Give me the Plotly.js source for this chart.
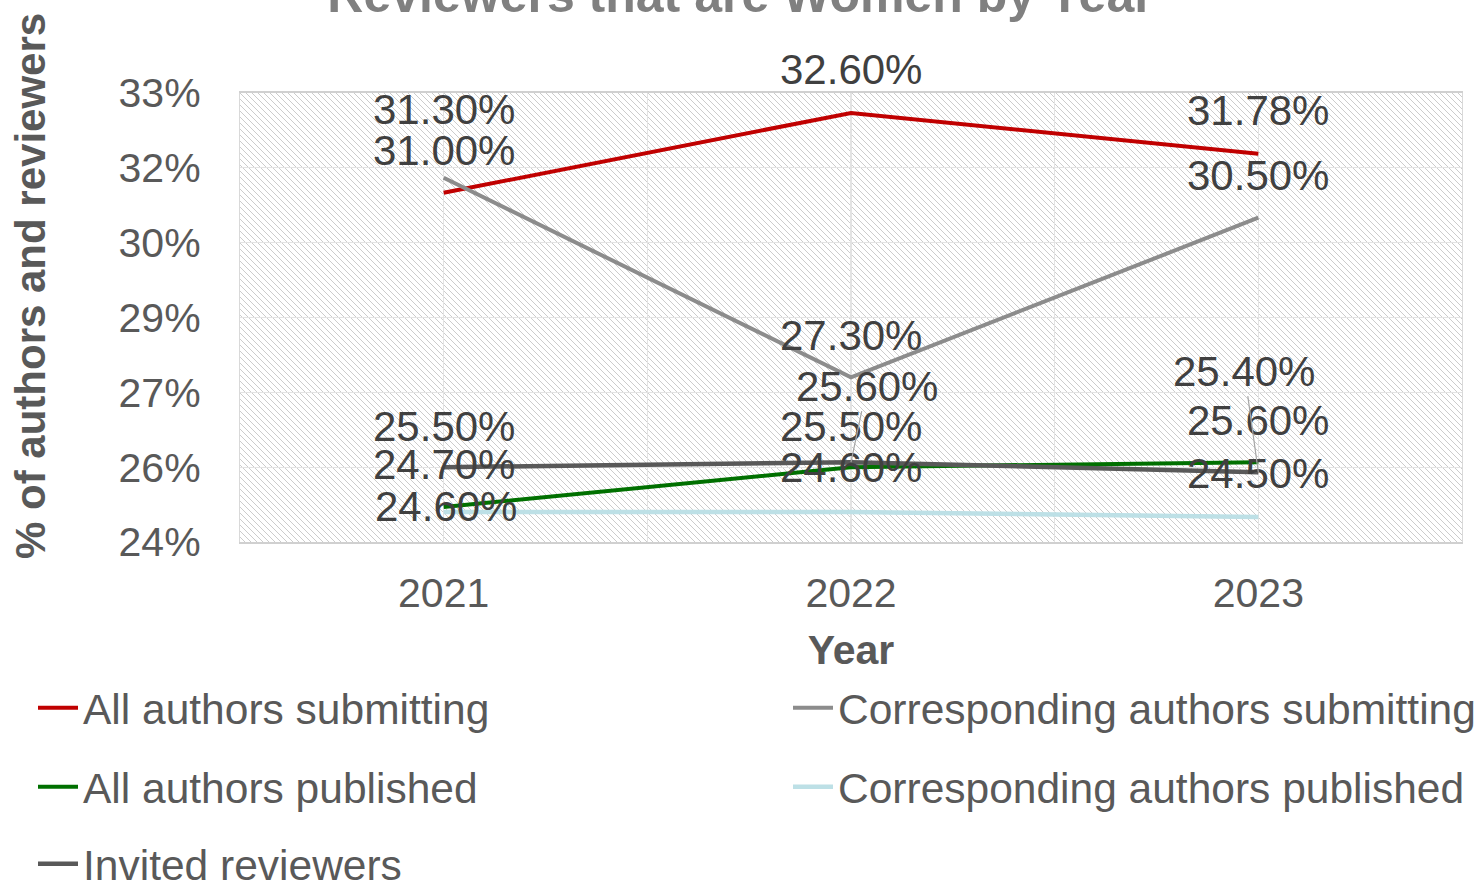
<!DOCTYPE html>
<html>
<head>
<meta charset="utf-8">
<script src="https://cdn.plot.ly/plotly-3.0.1.min.js"></script>
<style>
  html, body { margin: 0; padding: 0; background: #ffffff; }
  #chart { width: 1481px; height: 882px; }
</style>
</head>
<body>
<div id="chart"></div>
<script>
// ---- data ----
const years = [2021, 2022, 2023];
const allAuthorsSubmitting = [31.00, 32.60, 31.78];
const correspondingSubmitting = [31.30, 27.30, 30.50];
const allAuthorsPublished = [24.70, 25.50, 25.60];
const correspondingPublished = [24.60, 24.60, 24.50];
const invitedReviewers = [25.50, 25.60, 25.40];
const yTickValues = [24, 25.5, 27, 28.5, 30, 31.5, 33];
const seriesNames = [
  'All authors submitting',
  'Corresponding authors submitting',
  'All authors published',
  'Corresponding authors published',
  'Invited reviewers'
];

// ---- styling / label placement (pixels) ----
const FONT = 'Liberation Sans, Arial, sans-serif';
const colors = ['#C00000', '#8C8C8C', '#007000', '#BDE0E6', '#595959'];
const widths = [4, 4, 4, 4.5, 4.5];
// [dx, dy, leader] per point
const labelOffsets = [
  [[0, -42], [0, -43], [0, -43]],
  [[0, -68], [0, -42], [0, -42]],
  [[0, -43], [0, -41], [0, -42]],
  [[2, -6], [0, -45], [0, -44]],
  [[0, -41], [16, -76, true], [-14, -101, true]]
];
// legend anchors in container pixels [x, yCenter]
const legendPos = [[33, 708], [788, 708], [33, 787], [788, 787], [33, 864]];

const W = 1481, H = 882;
const M = { l: 240, r: 19, t: 93, b: 340, autoexpand: false };
const PW = W - M.l - M.r, PH = H - M.t - M.b;

const seriesValues = [allAuthorsSubmitting, correspondingSubmitting, allAuthorsPublished,
                      correspondingPublished, invitedReviewers];
const drawOrder = [0, 1, 3, 2, 4];

const traces = drawOrder.map((i) => ({
  type: 'scatter',
  mode: 'lines',
  x: years,
  y: seriesValues[i],
  name: seriesNames[i],
  line: { color: colors[i], width: widths[i] },
  legend: i === 0 ? 'legend' : 'legend' + (i + 1),
  hoverinfo: 'skip'
}));

const annotations = [];
seriesValues.forEach((vals, i) => {
  vals.forEach((v, j) => {
    const off = labelOffsets[i][j];
    const a = {
      x: years[j], y: v, xref: 'x', yref: 'y',
      text: v.toFixed(2) + '%',
      font: { family: FONT, size: 42, color: '#404040' }
    };
    if (off[2]) {
      Object.assign(a, { showarrow: true, arrowhead: 0, arrowwidth: 1.2, arrowcolor: '#A6A6A6',
        ax: off[0], ay: off[1], standoff: 0 });
    } else {
      Object.assign(a, { showarrow: false, xshift: off[0], yshift: -off[1] });
    }
    annotations.push(a);
  });
});

// y-axis title as a rotated annotation
annotations.push({
  xref: 'paper', yref: 'paper',
  x: (30 - M.l) / PW, y: (H - M.b - 286) / PH,
  xanchor: 'center', yanchor: 'middle', textangle: -90, showarrow: false,
  text: '<b>% of authors and reviewers</b>',
  font: { family: FONT, size: 42, color: '#595959' }
});

// hatched plot background as an SVG pattern image
const hatch = "<svg xmlns='http://www.w3.org/2000/svg' width='" + PW + "' height='" + PH + "' shape-rendering='crispEdges'>" +
  "<defs><pattern id='p' width='6' height='6' patternUnits='userSpaceOnUse'>" +
  "<rect x='0' y='0' width='1' height='1' fill='#CCCCCC'/>" +
  "<rect x='1' y='1' width='1' height='1' fill='#CCCCCC'/>" +
  "<rect x='2' y='2' width='1' height='1' fill='#CCCCCC'/>" +
  "<rect x='3' y='3' width='1' height='1' fill='#CCCCCC'/>" +
  "<rect x='4' y='4' width='1' height='1' fill='#CCCCCC'/>" +
  "<rect x='5' y='5' width='1' height='1' fill='#CCCCCC'/>" +
  "</pattern></defs>" +
  "<rect width='100%' height='100%' fill='url(#p)'/></svg>";
const hatchURI = 'data:image/svg+xml;charset=utf-8,' + encodeURIComponent(hatch);

const layout = {
  width: W, height: H,
  margin: M,
  paper_bgcolor: '#ffffff',
  plot_bgcolor: 'rgba(0,0,0,0)',
  font: { family: FONT, color: '#595959' },
  title: {
    text: '<b>Reviewers that are Women by Year</b>',
    font: { family: FONT, size: 50, color: '#808080' },
    xref: 'container', yref: 'container', x: 0.5, xanchor: 'center',
    y: 1 - 12 / H, yanchor: 'bottom', automargin: false
  },
  xaxis: {
    range: [2020.5, 2023.5],
    tickvals: years,
    ticktext: years.map(String),
    tickfont: { family: FONT, size: 41, color: '#595959' },
    ticklabelstandoff: 14,
    automargin: false,
    showgrid: true, gridcolor: '#E3E3E3', gridwidth: 1.2,
    minor: { tick0: 2020.5, dtick: 1, showgrid: true, gridcolor: '#E3E3E3', gridwidth: 1.2 },
    showline: true, linecolor: '#D0D0D0', linewidth: 2, mirror: true,
    zeroline: false, ticks: '',
    title: { text: '<b>Year</b>', font: { family: FONT, size: 41, color: '#595959' }, standoff: 20 }
  },
  yaxis: {
    range: [24, 33],
    tickvals: yTickValues,
    ticktext: yTickValues.map(v => Math.round(v) + '%'),
    tickfont: { family: FONT, size: 41, color: '#595959' },
    ticklabelstandoff: 30,
    automargin: false,
    showgrid: true, gridcolor: '#E3E3E3', gridwidth: 1.2,
    showline: true, linecolor: '#D9D9D9', linewidth: 1.2, mirror: true,
    zeroline: false, ticks: ''
  },
  images: [{
    source: hatchURI, xref: 'paper', yref: 'paper', x: 0, y: 1, sizex: 1, sizey: 1,
    xanchor: 'left', yanchor: 'top', sizing: 'stretch', layer: 'below'
  }],
  annotations: annotations,
  showlegend: true
};

legendPos.forEach((p, i) => {
  const key = i === 0 ? 'legend' : 'legend' + (i + 1);
  layout[key] = {
    xref: 'container', yref: 'container',
    x: p[0] / W, y: 1 - p[1] / H, xanchor: 'left', yanchor: 'middle',
    font: { family: FONT, size: 42.5, color: '#595959' },
    bgcolor: 'rgba(0,0,0,0)', borderwidth: 0, itemwidth: 40
  };
});

Plotly.newPlot('chart', traces, layout, { displayModeBar: false, staticPlot: true });
</script>
</body>
</html>
